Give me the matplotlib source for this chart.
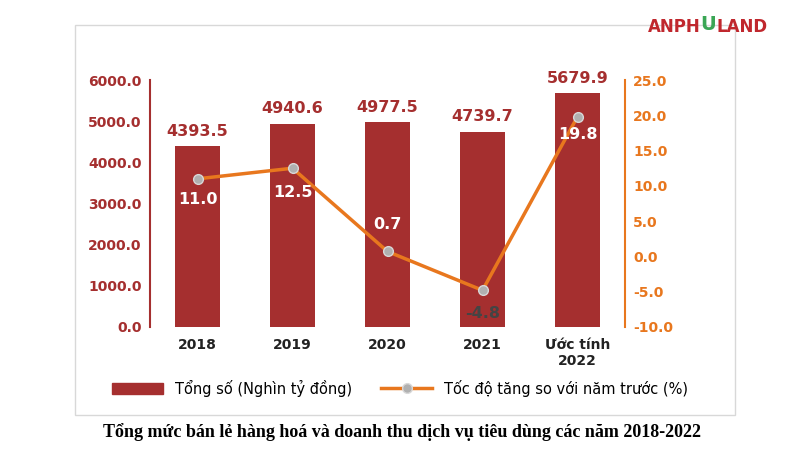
import matplotlib
matplotlib.use("Agg")
import matplotlib.pyplot as plt
from matplotlib.patches import Rectangle
from matplotlib.lines import Line2D

categories = ["2018", "2019", "2020", "2021", "Ước tính\n2022"]
totals = [4393.5, 4940.6, 4977.5, 4739.7, 5679.9]
growth = [11.0, 12.5, 0.7, -4.8, 19.8]
left_ticks = [0, 1000, 2000, 3000, 4000, 5000, 6000]
right_ticks = [-10, -5, 0, 5, 10, 15, 20, 25]

bar_c = "#A52F2F"
line_c = "#E8771E"

fig = plt.figure(figsize=(8, 4.5), dpi=100)
fig.patches.append(Rectangle((75/800, 1-415/450), 660/800, 390/450, transform=fig.transFigure,
                             fill=False, edgecolor="#d8d8d8", lw=1))
ax = fig.add_axes([150/800, 1-327/450, 475/800, 247/450])
x = list(range(len(categories)))
ax.bar(x, totals, width=0.47, color=bar_c)
ax.set_xlim(-0.5, 4.5)
ax.set_ylim(0, 6000)
ax.set_yticks(left_ticks)
ax.set_yticklabels([f"{v:.1f}" for v in left_ticks], color=bar_c, fontsize=10, fontweight="bold")
ax.set_xticks(x)
ax.set_xticklabels(categories, fontsize=10, fontweight="bold", color="#222")
for s in ["top", "right"]:
    ax.spines[s].set_visible(False)
ax.spines["left"].set_color(bar_c)
ax.spines["left"].set_linewidth(1.5)
ax.spines["bottom"].set_visible(False)
ax.tick_params(axis="x", length=0, pad=8)
ax.tick_params(axis="y", length=0, pad=6)
for xi, v in zip(x, totals):
    ax.text(xi, v + 180, f"{v:.1f}", ha="center", va="bottom", color=bar_c, fontsize=11.5, fontweight="bold")

ax2 = ax.twinx()
ax2.set_ylim(-10, 25)
ax2.plot(x, growth, color=line_c, lw=2.5, marker="o", markersize=7,
         markerfacecolor="#b0b0b0", markeredgecolor="#d8d8d8")
ax2.set_yticks(right_ticks)
ax2.set_yticklabels([f"{v:.1f}" for v in right_ticks], color=line_c, fontsize=10, fontweight="bold")
for s in ["top", "left", "bottom"]:
    ax2.spines[s].set_visible(False)
ax2.spines["right"].set_color(line_c)
ax2.spines["right"].set_linewidth(1.5)
ax2.tick_params(axis="y", length=0, pad=6)
offsets = [-3, -3.5, 3.8, -3.3, -2.5]
for xi, v, o in zip(x, growth, offsets):
    ax2.text(xi, v + o, f"{v:.1f}", ha="center", va="center",
             color="white" if xi != 3 else "#444", fontsize=11.5, fontweight="bold")

handles = [Rectangle((0, 0), 1, 1, color=bar_c),
           Line2D([0], [0], color=line_c, lw=2.5, marker="o", markersize=7,
                  markerfacecolor="#b0b0b0", markeredgecolor="#d8d8d8")]
fig.legend(handles, ["Tổng số (Nghìn tỷ đồng)", "Tốc độ tăng so với năm trước (%)"],
           loc="center", bbox_to_anchor=(400/800, 1-388/450), ncol=2, frameon=False,
           fontsize=10.5, handlelength=3.5, columnspacing=2)

fig.text(402/800, 1-432/450, "Tổng mức bán lẻ hàng hoá và doanh thu dịch vụ tiêu dùng các năm 2018-2022",
         ha="center", va="center", fontsize=13, fontweight="bold", family="Liberation Serif")
fig.text(648/800, 1-27/450, "ANPH", color="#C0272D", fontsize=12, fontweight="bold", va="center", ha="left")
fig.text(708/800, 1-25/450, "U", color="#3AA655", fontsize=14, fontweight="bold", va="center", ha="center")
fig.text(716/800, 1-27/450, "LAND", color="#C0272D", fontsize=12, fontweight="bold", va="center", ha="left")
fig.savefig("out.png", dpi=100)
